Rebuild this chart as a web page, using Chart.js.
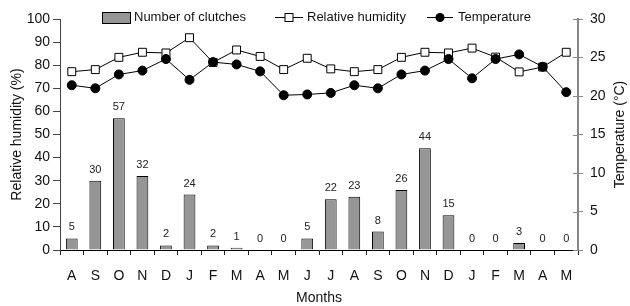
<!DOCTYPE html>
<html>
<head>
<meta charset="utf-8">
<script src="https://cdn.jsdelivr.net/npm/chart.js@4.4.1/dist/chart.umd.min.js"></script>
<style>
  html, body { margin: 0; padding: 0; background: #fff; }
  #wrap { width: 630px; height: 306px; }
</style>
</head>
<body>
<div id="wrap"><canvas id="chart" width="630" height="306"></canvas></div>
<script>
// Данные графика
const months = ['A','S','O','N','D','J','F','M','A','M','J','J','A','S','O','N','D','J','F','M','A','M'];
const clutches = [5,30,57,32,2,24,2,1,0,0,5,22,23,8,26,44,15,0,0,3,0,0];
const humidity = [77.2,78.1,83.4,85.6,85.3,91.9,81.2,86.6,83.8,78.1,83.0,78.4,77.2,78.1,83.4,85.6,85.3,87.4,83.5,77.1,79.2,85.6];
const temperature = [21.4,21.0,22.8,23.3,24.8,22.1,24.4,24.1,23.2,20.1,20.2,20.4,21.4,21.0,22.8,23.3,24.8,22.3,24.8,25.4,23.8,20.5];

const FONT = "'Liberation Sans', Arial, sans-serif";
const BAR_COLOR = '#969696';

// подписи над столбцами
const barLabels = {
    id: 'barLabels',
    afterDatasetsDraw(chart) {
        const ctx = chart.ctx;
        const meta = chart.getDatasetMeta(2);
        ctx.save();
        ctx.font = '11px ' + FONT;
        ctx.fillStyle = '#222';
        ctx.textAlign = 'center';
        ctx.textBaseline = 'alphabetic';
        meta.data.forEach((bar, i) => {
            ctx.fillText(String(clutches[i]), bar.x, bar.y - 8);
        });
        ctx.restore();
    }
};

// легенда сверху и подпись правой оси
const customLegend = {
    id: 'customLegend',
    afterDraw(chart) {
        const ctx = chart.ctx;
        const ds = chart.data.datasets;
        const y = 17.5;
        ctx.save();
        ctx.font = '13px ' + FONT;
        ctx.fillStyle = '#111';
        ctx.textBaseline = 'middle';
        ctx.textAlign = 'left';

        // столбец
        ctx.fillStyle = BAR_COLOR;
        ctx.fillRect(102.5, 12.5, 28, 11);
        ctx.strokeStyle = '#000';
        ctx.lineWidth = 1;
        ctx.strokeRect(102.5, 12.5, 28, 11);
        ctx.fillStyle = '#111';
        ctx.fillText(ds[2].label, 134, y);

        // влажность
        ctx.beginPath();
        ctx.moveTo(275, y); ctx.lineTo(303, y);
        ctx.stroke();
        ctx.fillStyle = '#fff';
        ctx.fillRect(285, y - 4, 8, 8);
        ctx.strokeRect(285, y - 4, 8, 8);
        ctx.fillStyle = '#111';
        ctx.fillText(ds[1].label, 307, y);

        // температура
        ctx.beginPath();
        ctx.moveTo(427, y); ctx.lineTo(453, y);
        ctx.stroke();
        ctx.beginPath();
        ctx.arc(440, y, 4.5, 0, Math.PI * 2);
        ctx.fillStyle = '#000';
        ctx.fill();
        ctx.fillStyle = '#111';
        ctx.fillText(ds[0].label, 458, y);

        // риски правой оси заходят внутрь графика
        const yT = chart.scales.yT;
        ctx.strokeStyle = '#888';
        yT.ticks.forEach(t => {
            const py = Math.round(yT.getPixelForValue(t.value)) + 0.5;
            ctx.beginPath();
            ctx.moveTo(yT.left - 5, py); ctx.lineTo(yT.left, py);
            ctx.stroke();
        });

        // заголовок правой оси (снизу вверх)
        ctx.fillStyle = '#111';
        ctx.font = '14px ' + FONT;
        ctx.textAlign = 'center';
        ctx.translate(620, (chart.chartArea.top + chart.chartArea.bottom) / 2);
        ctx.rotate(-Math.PI / 2);
        ctx.fillText('Temperature (°C)', 0, 0);
        ctx.restore();
    }
};

const ctx = document.getElementById('chart').getContext('2d');
new Chart(ctx, {
    type: 'bar',
    data: {
        labels: months,
        datasets: [
            {
                type: 'line',
                label: 'Temperature',
                data: temperature,
                yAxisID: 'yT',
                borderColor: '#000',
                borderWidth: 1,
                pointStyle: 'circle',
                pointRadius: 4.5,
                pointBackgroundColor: '#000',
                pointBorderColor: '#000',
                tension: 0,
                order: 0
            },
            {
                type: 'line',
                label: 'Relative humidity',
                data: humidity,
                yAxisID: 'yH',
                borderColor: '#000',
                borderWidth: 1,
                pointStyle: 'rect',
                pointRadius: 5.6,
                pointBackgroundColor: '#fff',
                pointBorderColor: '#000',
                pointBorderWidth: 1,
                tension: 0,
                order: 1
            },
            {
                label: 'Number of clutches',
                data: clutches,
                yAxisID: 'yH',
                backgroundColor: BAR_COLOR,
                borderColor: '#000',
                borderWidth: 1,
                barPercentage: 0.5,
                categoryPercentage: 1,
                order: 2
            }
        ]
    },
    options: {
        responsive: false,
        animation: false,
        layout: { padding: { top: 19, left: 0, right: 0, bottom: 0 } },
        plugins: {
            legend: { display: false },
            tooltip: { enabled: false }
        },
        scales: {
            x: {
                offset: true,
                grid: {
                    offset: true,
                    drawOnChartArea: false,
                    color: '#222',
                    tickLength: 5
                },
                border: { color: '#000', width: 1 },
                ticks: {
                    font: { family: FONT, size: 14 },
                    color: '#111',
                    padding: 13,
                    maxRotation: 0,
                    autoSkip: false
                },
                title: {
                    display: true,
                    text: 'Months',
                    font: { family: FONT, size: 14, lineHeight: 1 },
                    color: '#111',
                    padding: { top: 0, bottom: 1 }
                },
                afterFit(scale) { scale.height = 56; }
            },
            yH: {
                position: 'left',
                min: 0,
                max: 100,
                ticks: {
                    stepSize: 10,
                    font: { family: FONT, size: 14 },
                    color: '#111',
                    padding: 3
                },
                grid: {
                    drawOnChartArea: false,
                    color: '#444',
                    tickLength: 7
                },
                border: { color: '#444', width: 1 },
                title: {
                    display: true,
                    text: 'Relative humidity (%)',
                    font: { family: FONT, size: 14 },
                    color: '#111',
                    padding: { top: 9, bottom: 0 }
                },
                afterFit(scale) { scale.width = 60; }
            },
            yT: {
                position: 'right',
                min: 0,
                max: 30,
                ticks: {
                    stepSize: 5,
                    font: { family: FONT, size: 14 },
                    color: '#111',
                    padding: 7
                },
                grid: {
                    drawOnChartArea: false,
                    color: '#888',
                    tickLength: 5
                },
                border: { color: '#888', width: 2 },
                afterFit(scale) { scale.width = 52; }
            }
        }
    },
    plugins: [barLabels, customLegend]
});
</script>
</body>
</html>
